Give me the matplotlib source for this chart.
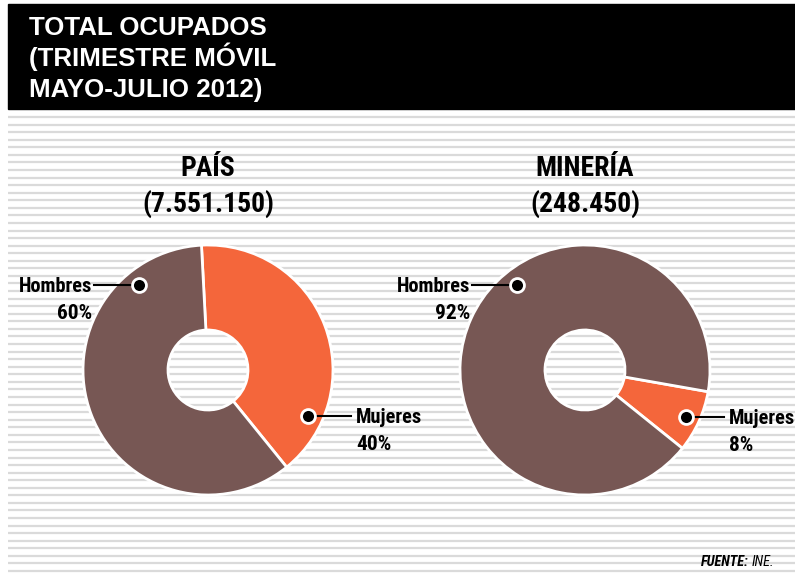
import numpy as np
import matplotlib.pyplot as plt
from matplotlib import font_manager

# ------------------------------
# Data
# ------------------------------
title_lines = ["TOTAL OCUPADOS", "(TRIMESTRE MÓVIL", "MAYO-JULIO 2012)"]
pie_titles = ["PAÍS", "MINERÍA"]
pie_totals = ["(7.551.150)", "(248.450)"]
labels = ["Mujeres", "Hombres"]
pais_values = [40, 60]
mineria_values = [8, 92]
source = "INE."

colors = ["#f4663b", "#775754"]
W, H = 795, 573

# pick a narrow face if one is there, else Liberation Sans
names = {f.name for f in font_manager.fontManager.ttflist}
NARROW = "Liberation Sans"
for cand in ["Liberation Sans Narrow", "Roboto Condensed", "Open Sans Condensed",
             "Noto Sans Condensed", "DejaVu Sans Condensed"]:
    if cand in names:
        NARROW = cand
        break
TITLE_FONT = "Liberation Sans"


def y(v):
    # image pixel row -> data y
    return H - v


fig = plt.figure(figsize=(W / 100, H / 100), dpi=100)
ax = fig.add_axes([0, 0, 1, 1])
renderer = fig.canvas.get_renderer()


def fit(t, width):
    # scale font size so the text spans the wanted pixel width
    w = t.get_window_extent(renderer=renderer).width
    t.set_fontsize(t.get_fontsize() * width / w)
    return t.get_fontsize()


def put(x, yy, s, ha="left", size=14, **kw):
    return ax.text(x, y(yy), s, ha=ha, va="baseline", fontsize=size, **kw)


# background stripes
for row in np.linspace(117, 571, 61):
    ax.plot([8, W], [y(row), y(row)], color="#dadada", lw=1.6, zorder=0,
            solid_capstyle="butt")

# title box
ax.add_patch(plt.Rectangle((8, y(109)), W - 8, 105, color="black", zorder=1))
ax.set_xlim(0, W)
ax.set_ylim(0, H)

t0 = put(29, 35, title_lines[0], color="white", fontweight="bold",
         family=TITLE_FONT, zorder=2)
fs_title = fit(t0, 239)
for i, t in enumerate(title_lines[1:], start=1):
    put(29, 35 + i * 31, t, color="white", fontweight="bold",
        family=TITLE_FONT, size=fs_title, zorder=2)

# ------------------------------
# Pies
# ------------------------------
pies = [
    (208, 370, pais_values, 93, pie_titles[0], pie_totals[0]),
    (585, 370, mineria_values, -10, pie_titles[1], pie_totals[1]),
]
ref = put(0, -50, pie_totals[0], fontweight="bold", family=NARROW)
fs_head = fit(ref, 132)
ref.remove()
for cx, cy, vals, start, name, total in pies:
    ax.pie(vals, colors=colors, startangle=start, counterclock=False,
           center=(cx, y(cy)), radius=125, frame=True,
           wedgeprops=dict(width=85, edgecolor="white", linewidth=2))
    put(cx, 176, name, ha="center", size=fs_head, fontweight="bold",
        family=NARROW)
    put(cx, 212, total, ha="center", size=fs_head, fontweight="bold",
        family=NARROW)

ax.set_xlim(0, W)
ax.set_ylim(0, H)
ax.set_aspect("equal")
ax.axis("off")

ref = put(0, -50, labels[1], fontweight="bold", family=NARROW)
fs_lab = fit(ref, 74)
ref.remove()

# callouts: (dot x, dot y, text x, line end x, align, label, pct)
callouts = [
    (139, 285, 92, 94, "right", labels[1], f"{pais_values[1]}%"),
    (308, 416, 356, 351, "left", labels[0], f"{pais_values[0]}%"),
    (517, 285, 470, 472, "right", labels[1], f"{mineria_values[1]}%"),
    (686, 417, 729, 724, "left", labels[0], f"{mineria_values[0]}%"),
]
for dx, dy, tx, lx, ha, lab, pct in callouts:
    ax.plot([lx, dx], [y(dy), y(dy)], color="black", lw=1.5, zorder=5)
    ax.plot(dx, y(dy), "o", ms=10, color="black", mec="white", mew=2,
            zorder=6)
    put(tx, dy + 7, lab, ha=ha, size=fs_lab, fontweight="bold",
        family=NARROW, zorder=6)
    put(tx, dy + 34, pct, ha=ha, size=fs_lab * 1.05, fontweight="bold",
        family=NARROW, zorder=6)

# source
s1 = put(749, 566, "FUENTE:", ha="right", fontweight="bold", style="italic",
         family=NARROW)
fit(s1, 48)
put(752, 566, source, size=s1.get_fontsize(), style="italic", family=NARROW)

fig.savefig("out.png", dpi=100)
